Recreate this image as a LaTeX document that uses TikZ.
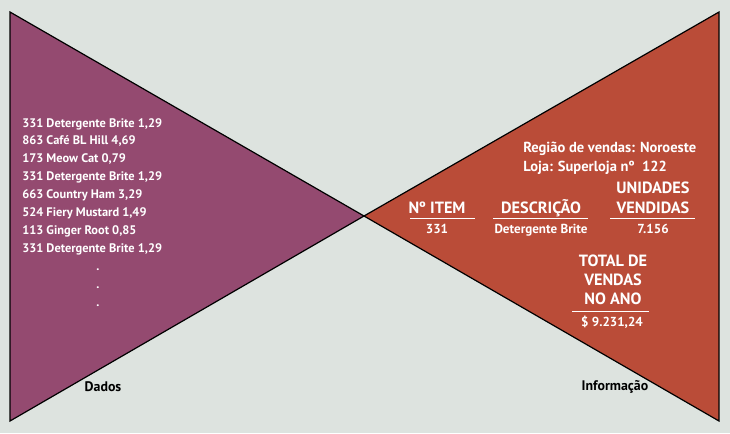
\documentclass[tikz,border=0pt]{standalone}
\usepackage{fontspec}
\setmainfont{PT Sans}
\definecolor{bgc}{RGB}{221,227,223}
\definecolor{dadosc}{RGB}{148,74,112}
\definecolor{infoc}{RGB}{186,76,56}
\begin{document}
\begin{tikzpicture}[x=0.75pt,y=-0.75pt,
  tri/.style={draw=black,line width=0.9pt,line join=miter},
  rec/.style={text=white,font=\bfseries\fontsize{9.3}{11}\selectfont,anchor=base west,inner sep=0pt},
  hdr/.style={text=white,font=\bfseries\fontsize{12.2}{14}\selectfont,anchor=base,inner sep=0pt},
  val/.style={text=white,font=\bfseries\fontsize{9.8}{11}\selectfont,anchor=base,inner sep=0pt},
  loc/.style={text=white,font=\bfseries\fontsize{10.9}{13}\selectfont,anchor=base west,inner sep=0pt},
  caplabel/.style={text=black,font=\bfseries\fontsize{10.4}{12}\selectfont,anchor=base,inner sep=0pt},
  underline/.style={draw=white,line width=0.8pt}]
\fill[bgc] (0,0) rectangle (730,433);
\useasboundingbox (0,0) rectangle (730,433);

% the two triangles meeting at a common apex
\coordinate (apex) at (364,216);
\filldraw[tri,fill=dadosc] (10,12) -- (apex) -- (10,421) -- cycle;
\filldraw[tri,fill=infoc] (719,12) -- (apex) -- (719,421) -- cycle;

% raw records
\foreach \t [count=\i from 0] in {{331 Detergente Brite 1,29},{863 Café BL Hill 4,69},{173 Meow Cat 0,79},{331 Detergente Brite 1,29},{663 Country Ham 3,29},{524 Fiery Mustard 1,49},{113 Ginger Root 0,85},{331 Detergente Brite 1,29}}
  \node[rec] (r\i) at (22,{127+17.9*\i}) {\t};
\foreach \i in {0,1,2}
  \node[rec,anchor=center] (dot\i) at (98,{270+18*\i}) {.};

% summarised information
\node[loc] (regiao) at (523,152) {Região de vendas: Noroeste};
\node[loc] (loja) at (523,171) {Loja: Superloja nº\ \ 122};

\node[hdr] (unid) at (653,193) {UNIDADES};
\node[hdr] (vend) at (653,213) {VENDIDAS};
\node[hdr] (item) at (437,213) {Nº ITEM};
\node[hdr] (desc) at (541,213) {DESCRIÇÃO};

\draw[underline] (410,218.5) -- (475,218.5);
\draw[underline] (493,218.5) -- (588,218.5);
\draw[underline] (610,218.5) -- (695,218.5);

\node[val] (v331) at (437,233) {331};
\node[val] (vdesc) at (541,233) {Detergente Brite};
\node[val] (vunid) at (653,233) {7.156};

\node[hdr] (tot1) at (613,266) {TOTAL DE};
\node[hdr] (tot2) at (613,285) {VENDAS};
\node[hdr] (tot3) at (613,304) {NO ANO};
\draw[underline] (572,311.5) -- (649,311.5);
\node[val] (vtot) at (612,326) {\$ 9.231,24};

% captions
\node[caplabel] (dados) at (103,391) {Dados};
\node[caplabel] (info) at (615,390) {Informação};
\end{tikzpicture}
\end{document}
